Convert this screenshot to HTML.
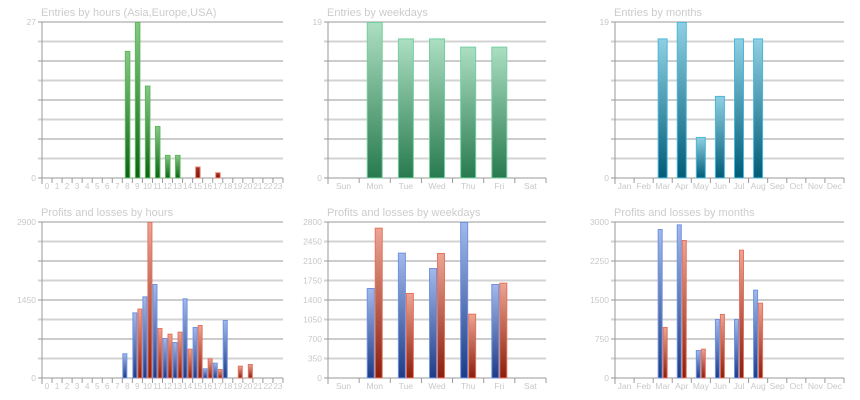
<!DOCTYPE html>
<html><head><meta charset="utf-8">
<style>
html,body{margin:0;padding:0;background:#fff;width:860px;height:400px;overflow:hidden}
svg{display:block}
text{font-family:"Liberation Sans",Arial,sans-serif}
</style></head>
<body>
<svg id="s" width="860" height="400" xmlns="http://www.w3.org/2000/svg">
<defs>
<linearGradient id="gG" x1="0" y1="0" x2="0" y2="1"><stop offset="0" stop-color="#86c986"/><stop offset="1" stop-color="#0b6412"/></linearGradient>
<linearGradient id="gW" x1="0" y1="0" x2="0" y2="1"><stop offset="0" stop-color="#acdfc2"/><stop offset="1" stop-color="#287a4e"/></linearGradient>
<linearGradient id="gT" x1="0" y1="0" x2="0" y2="1"><stop offset="0" stop-color="#8fd0e2"/><stop offset="1" stop-color="#005c78"/></linearGradient>
<linearGradient id="gB" x1="0" y1="0" x2="0" y2="1"><stop offset="0" stop-color="#a3b9ec"/><stop offset="1" stop-color="#1d3c86"/></linearGradient>
<linearGradient id="gR" x1="0" y1="0" x2="0" y2="1"><stop offset="0" stop-color="#eda594"/><stop offset="1" stop-color="#8a1e0c"/></linearGradient>
<linearGradient id="gDR" x1="0" y1="0" x2="0" y2="1"><stop offset="0" stop-color="#a83020"/><stop offset="1" stop-color="#7e1608"/></linearGradient>
</defs>
</svg>
<script>
var s=document.getElementById('s'),NS='http://www.w3.org/2000/svg';
function el(t,a,txt){var e=document.createElementNS(NS,t);for(var k in a)e.setAttribute(k,a[k]);if(txt!=null)e.textContent=txt;s.appendChild(e);return e;}
function chart(o){
 var x0=o.x0,x1=o.x1,y0=o.top,y1=o.top+156,h=156;
 el('text',{x:o.tx,y:o.top-6,'font-size':11,fill:'#cccccc'},o.title);
 for(var i=0;i<=8;i++){var y=y0+i*h/8;
  if(i%2==1)el('line',{x1:x0-4,x2:x1,y1:y,y2:y,stroke:'#d3d3d3','stroke-width':2});
  else el('line',{x1:x0-4,x2:x1,y1:y,y2:y,stroke:'#9a9a9a','stroke-width':1});}
 el('line',{x1:x0,x2:x0,y1:y0,y2:y1+6,stroke:'#9a9a9a','stroke-width':1});
 var n=o.labels.length,w=(x1-x0)/n;
 for(var i=0;i<=n;i++){var x=x0+i*w;el('line',{x1:x,x2:x,y1:y1,y2:y1+5,stroke:'#9a9a9a','stroke-width':1});}
 for(var i=0;i<n;i++)el('text',{x:x0+i*w+w/2,y:y1+11,'font-size':o.lfs,fill:'#c8c8c8','text-anchor':'middle'},o.labels[i]);
 o.yl.forEach(function(p){el('text',{x:x0-6,y:y1-p[0]*h/8+3,'font-size':8.5,fill:'#c8c8c8','text-anchor':'end'},p[1]);});
 o.bars.forEach(function(b){var v=b[1],hh=v/o.max*h;
  el('rect',{x:x0+b[0]*w+b[2]+0.5,y:y1-hh+0.5,width:b[3]-1,height:Math.max(hh-0.5,0),fill:'url(#'+b[4]+')',stroke:b[5],'stroke-width':1});});
}
var H=[];for(var i=0;i<24;i++)H.push(''+i);
var WD=['Sun','Mon','Tue','Wed','Thu','Fri','Sat'];
var MO=['Jan','Feb','Mar','Apr','May','Jun','Jul','Aug','Sep','Oct','Nov','Dec'];
var b1=[];[[8,22],[9,27],[10,16],[11,9],[12,4],[13,4]].forEach(function(a){b1.push([a[0],a[1],2.5,5.5,'gG','#5cb85c'])});
[[15,2],[17,1]].forEach(function(a){b1.push([a[0],a[1],2.5,5.5,'gDR','#e88a78'])});
chart({x0:42,x1:283,top:22,tx:41,title:'Entries by hours (Asia,Europe,USA)',labels:H,lfs:8,max:27,yl:[[0,'0'],[8,'27']],bars:b1});
var b2=[];[[1,19],[2,17],[3,17],[4,16],[5,16]].forEach(function(a){b2.push([a[0],a[1],7.6,16,'gW','#74d0a0'])});
chart({x0:328,x1:546,top:22,tx:327,title:'Entries by weekdays',labels:WD,lfs:8.5,max:19,yl:[[0,'0'],[8,'19']],bars:b2});
var b3=[];[[2,17],[3,19],[4,5],[5,10],[6,17],[7,17]].forEach(function(a){b3.push([a[0],a[1],4.5,10,'gT','#4bb8d8'])});
chart({x0:615,x1:844,top:22,tx:614,title:'Entries by months',labels:MO,lfs:8.5,max:19,yl:[[0,'0'],[8,'19']],bars:b3});
var b4=[];
[[8,460,0],[9,1220,1290],[10,1518,2900],[11,1747,930],[12,744,824],[13,669,861],[14,1481,545],[15,948,985],[16,180,366],[17,285,167],[18,1078,0],[19,0,229],[20,0,260]].forEach(function(a){
 if(a[1])b4.push([a[0],a[1],0,5,'gB','#6f93e0']);if(a[2])b4.push([a[0],a[2],5,5,'gR','#e5735f']);});
chart({x0:42,x1:283,top:222,tx:41,title:'Profits and losses by hours',labels:H,lfs:8,max:2900,yl:[[0,'0'],[4,'1450'],[8,'2900']],bars:b4});
var b5=[];
[[1,1615,2698],[2,2250,1526],[3,1974,2244],[4,2800,1155],[5,1687,1711]].forEach(function(a){
 b5.push([a[0],a[1],7.6,8,'gB','#6f93e0']);b5.push([a[0],a[2],15.6,8,'gR','#e5735f']);});
chart({x0:328,x1:546,top:222,tx:327,title:'Profits and losses by weekdays',labels:WD,lfs:8.5,max:2800,yl:[[0,'0'],[1,'350'],[2,'700'],[3,'1050'],[4,'1400'],[5,'1750'],[6,'2100'],[7,'2450'],[8,'2800']],bars:b5});
var b6=[];
[[2,2865,981],[3,2955,2654],[4,538,564],[5,1135,1231],[6,1135,2468],[7,1699,1449]].forEach(function(a){
 b6.push([a[0],a[1],4.5,5,'gB','#6f93e0']);b6.push([a[0],a[2],9.5,5,'gR','#e5735f']);});
chart({x0:615,x1:844,top:222,tx:614,title:'Profits and losses by months',labels:MO,lfs:8.5,max:3000,yl:[[0,'0'],[2,'750'],[4,'1500'],[6,'2250'],[8,'3000']],bars:b6});
</script>
</body></html>
